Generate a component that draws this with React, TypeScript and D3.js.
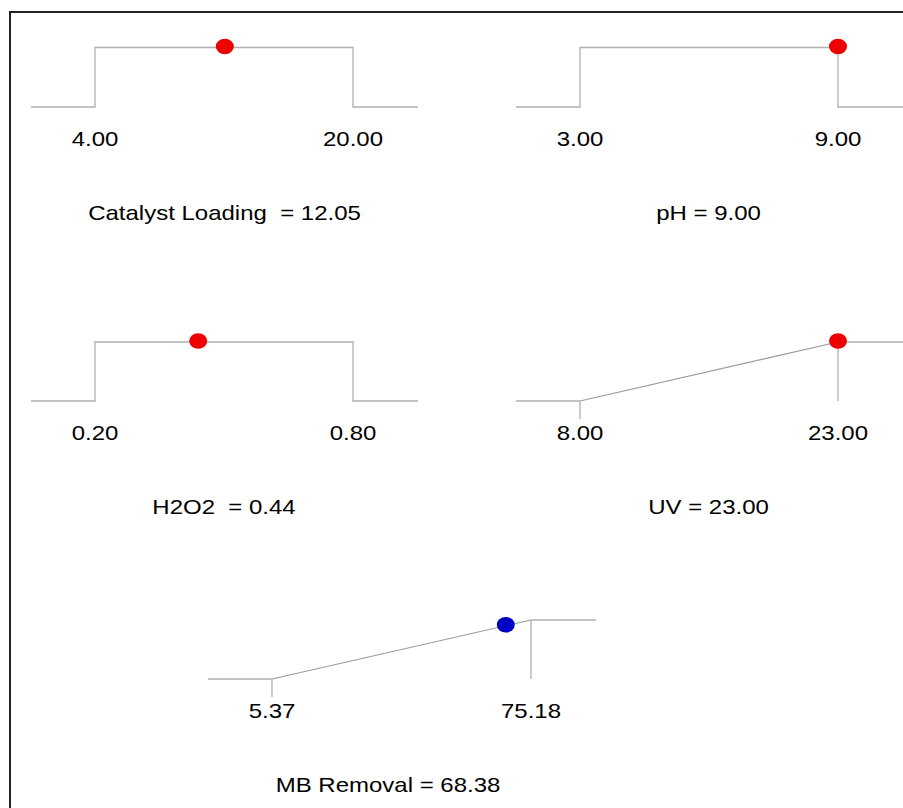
import React from "react";
import * as d3 from "d3";

// ---- data ----
const factorNames = ["Catalyst Loading", "pH", "H2O2", "UV", "MB Removal"];
const lowLimits = [4.0, 3.0, 0.2, 8.0, 5.37];
const highLimits = [20.0, 9.0, 0.8, 23.0, 75.18];
const optimumValues = [12.05, 9.0, 0.44, 23.0, 68.38];
const goalTypes = ["range", "range", "range", "maximize", "maximize"];
const titleSeparators = ["  = ", " = ", "  = ", " = ", " = "];
const isResponse = [false, false, false, false, true];

// ---- layout (not data) ----
const W = 903;
const H = 808;
const panelLayout = [
  { x0: 95, x1: 353, top: 47.5, base: 107, titleX: 224.5 },
  { x0: 580, x1: 838, top: 47.5, base: 107, titleX: 708.5 },
  { x0: 95, x1: 353, top: 342, base: 401, titleX: 224 },
  { x0: 580, x1: 838, top: 342, base: 401, titleX: 708.5 },
  { x0: 272, x1: 531, top: 620, base: 679, titleX: 388 },
];
const EXT = 64;
const FONT = "'Liberation Sans', Arial, Helvetica, sans-serif";
const lineColor = "#b0b0b0";
const slopeColor = "#9a9a9a";

function desirability(goal: string, v: number, lo: number, hi: number) {
  if (goal === "range") return v >= lo && v <= hi ? 1 : 0;
  if (v <= lo) return 0;
  if (v >= hi) return 1;
  return (v - lo) / (hi - lo);
}

function Label({ x, y, text }: { x: number; y: number; text: string }) {
  return (
    <text
      transform={`translate(${x},${y}) scale(1.2,1)`}
      textAnchor="middle"
      fontFamily={FONT}
      fontSize={20}
      fill="#000"
      style={{ whiteSpace: "pre" }}
    >
      {text}
    </text>
  );
}

function Panel({ i }: { i: number }) {
  const L = panelLayout[i];
  const lo = lowLimits[i];
  const hi = highLimits[i];
  const goal = goalTypes[i];
  const xs = d3.scaleLinear().domain([lo, hi]).range([L.x0, L.x1]);
  const ys = d3.scaleLinear().domain([0, 1]).range([L.base, L.top]);
  const extLo = xs.invert(L.x0 - EXT);
  const extHi = xs.invert(L.x1 + EXT + 1);

  const line = d3
    .line<[number, number]>()
    .x((d) => xs(d[0]))
    .y((d) => ys(d[1]));

  const v = optimumValues[i];
  const dv = desirability(goal, v, lo, hi);
  const fmt = d3.format(".2f");

  const paths: React.ReactNode[] = [];
  if (goal === "range") {
    const pts: [number, number][] = [
      [extLo, 0],
      [lo, 0],
      [lo, 1],
      [hi, 1],
      [hi, 0],
      [extHi, 0],
    ];
    paths.push(
      <path key="p" d={line(pts) || ""} fill="none" stroke={lineColor} strokeWidth={1.3} />
    );
  } else {
    paths.push(
      <path key="a" d={line([[extLo, 0], [lo, 0]]) || ""} fill="none" stroke={lineColor} strokeWidth={1.3} />,
      <path key="b" d={line([[lo, 0], [hi, 1]]) || ""} fill="none" stroke={slopeColor} strokeWidth={1.1} />,
      <path key="c" d={line([[hi, 1], [extHi, 1]]) || ""} fill="none" stroke={lineColor} strokeWidth={1.3} />,
      <line key="t1" x1={xs(lo)} x2={xs(lo)} y1={ys(0)} y2={ys(0) + 18} stroke={lineColor} strokeWidth={1.3} />,
      <line key="t2" x1={xs(hi)} x2={xs(hi)} y1={ys(1)} y2={ys(0)} stroke={lineColor} strokeWidth={1.3} />
    );
  }

  return (
    <g>
      {paths}
      <ellipse
        cx={xs(v)}
        cy={ys(dv) - 1}
        rx={9}
        ry={7.8}
        fill={isResponse[i] ? "#0000c4" : "#ee0000"}
      />
      <Label x={xs(lo)} y={L.base + 38.7} text={fmt(lo)} />
      <Label x={xs(hi)} y={L.base + 38.7} text={fmt(hi)} />
      <Label x={L.titleX} y={L.base + 113} text={`${factorNames[i]}${titleSeparators[i]}${fmt(v)}`} />
    </g>
  );
}

export default function App() {
  return (
    <svg
      width={W}
      height={H}
      style={{ position: "absolute", left: 0, top: 0, background: "#fff" }}
    >
      <rect x={0} y={0} width={W} height={H} fill="#fff" />
      <rect x={10} y={12} width={1200} height={1200} fill="none" stroke="#222" strokeWidth={2} />
      {factorNames.map((_, i) => (
        <Panel key={i} i={i} />
      ))}
    </svg>
  );
}
